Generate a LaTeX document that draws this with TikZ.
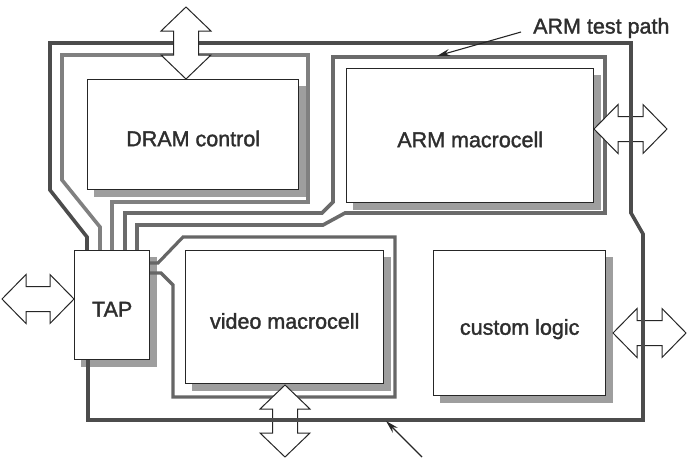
\documentclass[tikz,border=0pt]{standalone}
\usepackage{fontspec}
\setmainfont{Liberation Sans}
\newfontfamily\medfont{Liberation Sans}[FakeBold=1.6]
\usetikzlibrary{arrows.meta,calc}
\pgfdeclarelayer{shad}
\pgfdeclarelayer{wires}
\pgfsetlayers{shad,wires,main}
% vertical double block arrow: cx, ytop, ybottom
\newcommand{\BiArrowV}[3]{%
  \draw[bia] (#1,#2) -- (#1+25,#2+24) -- (#1+12.5,#2+24) -- (#1+12.5,#3-24) -- (#1+25,#3-24)
    -- (#1,#3) -- (#1-25,#3-24) -- (#1-12.5,#3-24) -- (#1-12.5,#2+24) -- (#1-25,#2+24) -- cycle;}
% horizontal double block arrow: cy, xleft, xright
\newcommand{\BiArrowH}[3]{%
  \draw[bia] (#2,#1) -- (#2+24,#1-24.5) -- (#2+24,#1-12.5) -- (#3-24,#1-12.5) -- (#3-24,#1-24.5)
    -- (#3,#1) -- (#3-24,#1+24.5) -- (#3-24,#1+12.5) -- (#2+24,#1+12.5) -- (#2+24,#1+24.5) -- cycle;}
\begin{document}
\begin{tikzpicture}[x=1pt,y=-1pt,
  blk/.style={draw=black!85,line width=1.4pt,fill=white,inner sep=0pt,anchor=north west,
              text=black!82,text height=23pt,text depth=0pt,
              font=\medfont\fontsize{21.5}{26}\selectfont},
  shd/.style={fill=black!38},
  wire/.style={line width=3.6pt},
  outerwire/.style={wire,draw=black!70},
  dramwire/.style={wire,draw=black!50},
  armwire/.style={wire,draw=black!58},
  vidwire/.style={wire,line width=3.2pt,draw=black!60},
  bia/.style={draw=black!85,line width=1pt,fill=white,line join=miter},
  lbl/.style={font=\medfont\fontsize{21.5}{26}\selectfont,text=black!82,inner sep=0pt},
  pointer/.style={draw=black!85,line width=1.1pt,-{Stealth[length=13pt,width=7pt]}}]
\useasboundingbox (0,0) rectangle (687,469);

% blocks
\node[blk,minimum width=211pt,minimum height=110pt] (dram) at (87,79) {DRAM control};
\node[blk,minimum width=247pt,minimum height=134pt] (arm) at (346,68) {ARM macrocell};
\node[blk,minimum width=75pt,minimum height=109pt] (tap) at (74,250) {TAP};
\node[blk,minimum width=198pt,minimum height=133pt] (video) at (185,250) {video macrocell};
\node[blk,minimum width=172pt,minimum height=145pt] (custom) at (433,250) {custom logic};

% shadows
\begin{pgfonlayer}{shad}
  \foreach \b in {dram,arm,tap,video,custom}
    \fill[shd] ($(\b.north west)+(7,7)$) rectangle ($(\b.south east)+(7,7)$);
\end{pgfonlayer}

\begin{pgfonlayer}{wires}
  % DRAM test loop
  \draw[dramwire] (100,252) -- (100,227) -- (62,180) -- (62,55) -- (308,55) -- (308,202)
     -- (112,202) -- (112,252);
  % ARM test loop
  \draw[armwire] (125,252) -- (125,213) -- (322,213) -- (333,202) -- (333,57) -- (605,57)
     -- (605,213) -- (345,213) -- (323,225) -- (137,225) -- (137,252);
  % video test loop
  \draw[vidwire] (147,263) -- (158,263) -- (183,237) -- (395,237) -- (395,397) -- (173,397)
     -- (173,285) -- (161,273) -- (147,273);
  % block arrows under the boundary path
  \BiArrowH{129}{594}{667}
  \BiArrowH{299}{2}{74}
  \BiArrowH{333}{613}{686}
  \BiArrowV{285}{385}{457}
  % boundary scan path
  \draw[outerwire] (88,357) -- (88,420) -- (643,420) -- (643,234) -- (631,213) -- (631,43)
     -- (50,43) -- (50,190) -- (87,237) -- (87,252);
\end{pgfonlayer}

% top block arrow over the paths
\BiArrowV{186}{7}{79}

% label and pointers
\node[lbl,anchor=west] (armlbl) at (533,28) {ARM test path};
\coordinate (armhit) at (437,56);
\draw[pointer] ($(armlbl.west)+(-12,4)$) -- (armhit);
\coordinate (bsp) at (422,457);
\coordinate (bhit) at (386,421);
\draw[pointer] (bsp) -- (bhit);
\end{tikzpicture}
\end{document}
